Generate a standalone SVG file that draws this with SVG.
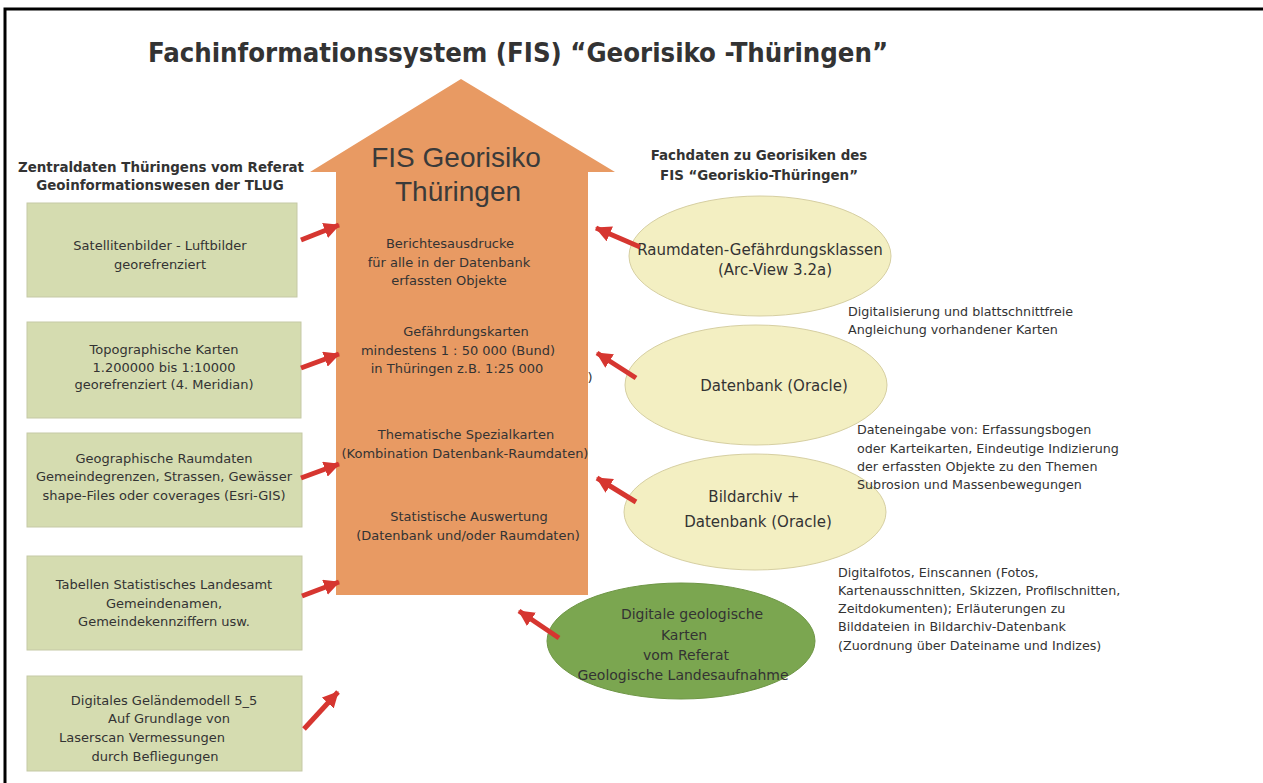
<svg xmlns="http://www.w3.org/2000/svg" width="1263" height="783" viewBox="0 0 1263 783">
<style>
.t{font-family:"DejaVu Sans","Liberation Sans",sans-serif;fill:#333;text-anchor:middle}
.b13{font-size:13px}
.s12{font-size:12.7px;text-anchor:start}
.hd{font-size:13.4px;font-weight:bold}
.el{font-size:15px}
.box{fill:#D5DCB0;stroke:#C5C9A6;stroke-width:1}
.ell{fill:#F3EFC2;stroke:#D6CFA2;stroke-width:1}
.arr{stroke:#D63630;stroke-width:5;fill:none;marker-end:url(#ah)}
</style>
<defs>
<marker id="ah" markerUnits="userSpaceOnUse" markerWidth="18" markerHeight="16" refX="15" refY="8" orient="auto">
<path d="M0,0 L16,8 L0,16 z" fill="#D63630"/>
</marker>
</defs>
<rect width="1263" height="783" fill="#fff"/>
<path d="M5,783 V9 H1263" fill="none" stroke="#000" stroke-width="3"/>
<text x="518" y="62" font-family="DejaVu Sans Condensed,Liberation Sans Narrow,sans-serif" font-weight="bold" font-size="27" fill="#333" text-anchor="middle" textLength="740" lengthAdjust="spacingAndGlyphs">Fachinformationssystem (FIS) “Georisiko -Thüringen”</text>

<g id="fis-arrow">
<path d="M461,79 L615,172 L588,172 L588,595 L336,595 L336,172 L310,172 Z" fill="#E89A63"/>
<text x="456" y="167" font-family="Liberation Sans,Arial,sans-serif" font-size="28" fill="#3a3a3a" text-anchor="middle">FIS Georisiko</text>
<text x="458" y="201" font-family="Liberation Sans,Arial,sans-serif" font-size="28" fill="#3a3a3a" text-anchor="middle">Thüringen</text>
<text class="t b13" x="450" y="248">Berichtesausdrucke</text>
<text class="t b13" x="449" y="267">für alle in der Datenbank</text>
<text class="t b13" x="449" y="285">erfassten Objekte</text>
<text class="t b13" x="466" y="336">Gefährdungskarten</text>
<text class="t b13" x="458" y="355">mindestens 1 : 50 000 (Bund)</text>
<text class="t b13" x="457" y="373">in Thüringen z.B. 1:25 000</text>
<text class="t b13" x="466" y="439">Thematische Spezialkarten</text>
<text class="t b13" x="465" y="458">(Kombination Datenbank-Raumdaten)</text>
<text class="t b13" x="469" y="521">Statistische Auswertung</text>
<text class="t b13" x="468" y="540">(Datenbank und/oder Raumdaten)</text>
</g>
<text class="t b13" x="590" y="382">)</text>

<g id="left-header">
<text class="t hd" x="161" y="172">Zentraldaten Thüringens vom Referat</text>
<text class="t hd" x="160" y="190">Geoinformationswesen der TLUG</text>
</g>

<g id="box1">
<rect class="box" x="27" y="203" width="270" height="94"/>
<text class="t b13" x="160" y="250">Satellitenbilder - Luftbilder</text>
<text class="t b13" x="160" y="269">georefrenziert</text>
</g>
<g id="box2">
<rect class="box" x="27" y="322" width="274" height="96"/>
<text class="t b13" x="164" y="354">Topographische Karten</text>
<text class="t b13" x="164" y="372">1.200000 bis 1:10000</text>
<text class="t b13" x="164" y="389">georefrenziert (4. Meridian)</text>
</g>
<g id="box3">
<rect class="box" x="27" y="433" width="275" height="94"/>
<text class="t b13" x="164" y="463">Geographische Raumdaten</text>
<text class="t b13" x="164" y="481">Gemeindegrenzen, Strassen, Gewässer</text>
<text class="t b13" x="164" y="500">shape-Files oder coverages (Esri-GIS)</text>
</g>
<g id="box4">
<rect class="box" x="27" y="556" width="275" height="94"/>
<text class="t b13" x="164" y="589">Tabellen Statistisches Landesamt</text>
<text class="t b13" x="164" y="608">Gemeindenamen,</text>
<text class="t b13" x="164" y="626">Gemeindekennziffern usw.</text>
</g>
<g id="box5">
<rect class="box" x="27" y="676" width="275" height="95"/>
<text class="t b13" x="164" y="705">Digitales Geländemodell 5_5</text>
<text class="t b13" x="169" y="723">Auf Grundlage von</text>
<text class="t b13" x="142" y="742">Laserscan Vermessungen</text>
<text class="t b13" x="155" y="761">durch Befliegungen</text>
</g>

<g id="right-header">
<text class="t hd" x="759" y="160">Fachdaten zu Georisiken des</text>
<text class="t hd" x="759" y="180">FIS “Georiskio-Thüringen”</text>
</g>

<g id="ellipse-raumdaten">
<ellipse class="ell" cx="760" cy="256" rx="131" ry="60"/>
<text class="t el" x="760" y="255">Raumdaten-Gefährdungsklassen</text>
<text class="t el" x="775" y="275">(Arc-View 3.2a)</text>
</g>
<g id="ellipse-datenbank">
<ellipse class="ell" cx="756" cy="385" rx="131" ry="60"/>
<text class="t el" x="774" y="391">Datenbank (Oracle)</text>
</g>
<g id="ellipse-bildarchiv">
<ellipse class="ell" cx="755" cy="512" rx="131" ry="58"/>
<text class="t el" x="754" y="502">Bildarchiv +</text>
<text class="t el" x="758" y="527">Datenbank (Oracle)</text>
</g>
<g id="ellipse-geologie">
<ellipse cx="681" cy="641" rx="134" ry="58" fill="#7BA650" stroke="#6E9645" stroke-width="1"/>
<text class="t" font-size="14" x="692" y="619">Digitale geologische</text>
<text class="t" font-size="14" x="684" y="640">Karten</text>
<text class="t" font-size="14" x="686" y="660">vom Referat</text>
<text class="t" font-size="14" x="683" y="680">Geologische Landesaufnahme</text>
</g>

<g id="note-digitalisierung">
<text class="t s12" x="848" y="316">Digitalisierung und blattschnittfreie</text>
<text class="t s12" x="848" y="334">Angleichung vorhandener Karten</text>
</g>
<g id="note-dateneingabe">
<text class="t s12" x="857" y="434">Dateneingabe von: Erfassungsbogen</text>
<text class="t s12" x="857" y="453">oder Karteikarten, Eindeutige Indizierung</text>
<text class="t s12" x="857" y="471">der erfassten Objekte zu den Themen</text>
<text class="t s12" x="857" y="489">Subrosion und Massenbewegungen</text>
</g>
<g id="note-digitalfotos">
<text class="t s12" x="838" y="577">Digitalfotos, Einscannen (Fotos,</text>
<text class="t s12" x="838" y="595">Kartenausschnitten, Skizzen, Profilschnitten,</text>
<text class="t s12" x="838" y="613">Zeitdokumenten); Erläuterungen zu</text>
<text class="t s12" x="838" y="631">Bilddateien in Bildarchiv-Datenbank</text>
<text class="t s12" x="838" y="650">(Zuordnung über Dateiname und Indizes)</text>
</g>

<g id="connectors">
<line class="arr" x1="301" y1="240" x2="339" y2="225"/>
<line class="arr" x1="301" y1="368" x2="339" y2="354"/>
<line class="arr" x1="301" y1="478" x2="339" y2="464"/>
<line class="arr" x1="302" y1="596" x2="339" y2="582"/>
<line class="arr" x1="304" y1="729" x2="338" y2="692"/>
<line class="arr" x1="640" y1="247" x2="596" y2="228"/>
<line class="arr" x1="636" y1="378" x2="597" y2="353"/>
<line class="arr" x1="636" y1="502" x2="597" y2="478"/>
<line class="arr" x1="559" y1="638" x2="519" y2="611"/>
</g>
</svg>
